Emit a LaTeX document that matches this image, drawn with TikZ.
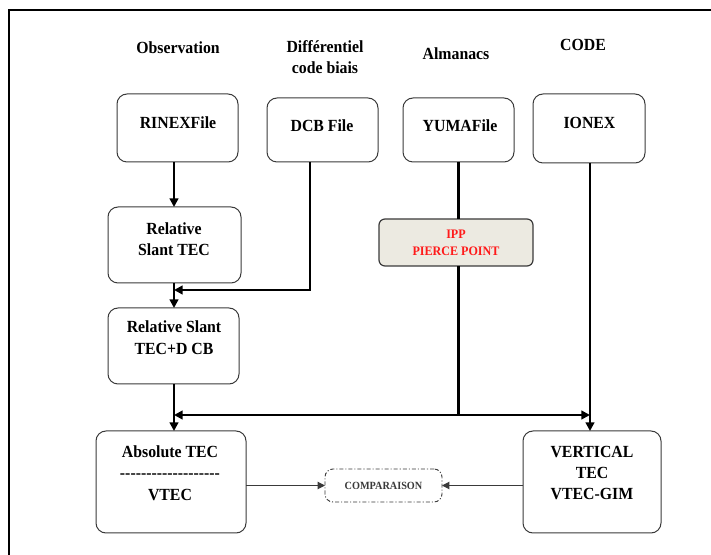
\documentclass[tikz,border=0pt]{standalone}
\usepackage{fontspec}
\setmainfont[FakeStretch=0.93]{Liberation Serif}
\usetikzlibrary{arrows.meta}
\definecolor{boxline}{HTML}{3A3A3A}
\definecolor{ippfill}{HTML}{ECEAE1}
\definecolor{ippred}{HTML}{FF1A1A}
\tikzset{
  box/.style={draw=boxline, line width=0.75pt, rounded corners=7.5pt, inner sep=0pt, outer sep=0pt},
  ippbox/.style={draw=boxline, fill=ippfill, line width=0.9pt, rounded corners=4.5pt, inner sep=0pt, outer sep=0pt},
  compbox/.style={draw=boxline, line width=0.7pt, rounded corners=6pt, inner sep=0pt, outer sep=0pt,
    dash pattern=on 3pt off 1.5pt on 0.8pt off 1.5pt},
  txt/.style={inner sep=0pt, align=center, font=\fontsize{12.75}{16.1}\selectfont\bfseries},
  iptxt/.style={inner sep=0pt, align=center, text=ippred, font=\fontsize{9.75}{12.75}\selectfont\bfseries},
  comptxt/.style={inner sep=0pt, text=boxline, font=\fontsize{8.25}{10}\selectfont\bfseries},
  conn/.style={line width=1.9pt, -{Triangle[length=6.5pt,width=6.5pt]}},
  connline/.style={line width=1.9pt},
  thinarr/.style={line width=0.8pt, draw=boxline, -{Triangle[length=5.5pt,width=5.5pt]}},
}
\begin{document}
\begin{tikzpicture}[x=0.75pt, y=-0.75pt]
\useasboundingbox (0,0) rectangle (711,555);
% frame
\draw[line width=1.3pt] (9,560) -- (9,10) -- (715,10);

% column headers
\node[txt] (hobs) at (178,48) {Observation};
\node[txt] (hdcb) at (325,57) {Différentiel\\code biais};
\node[txt] (halm) at (456,54) {Almanacs};
\node[txt] (hcode) at (583,45) {CODE};

% boxes
\node[box, minimum width=90.75pt, minimum height=51pt] (rinex) at (177.5,128) {};
\node[txt] (trinex) at (178,123) {RINEXFile};
\node[box, minimum width=83.25pt, minimum height=48pt] (dcb) at (322.5,130) {};
\node[txt] (tdcb) at (322,126) {DCB File};
\node[box, minimum width=83.25pt, minimum height=48pt] (yuma) at (458.5,130) {};
\node[txt] (tyuma) at (460,126) {YUMAFile};
\node[box, minimum width=84pt, minimum height=51.75pt] (ionex) at (589,128.5) {};
\node[txt] (tionex) at (589.5,123) {IONEX};

\node[box, minimum width=99.75pt, minimum height=57pt] (reltec) at (174.5,245) {};
\node[txt] (treltec) at (174,239) {Relative\\Slant TEC};

\node[ippbox, minimum width=115.5pt, minimum height=35.25pt] (ipp) at (456,242.5) {};
\node[iptxt] (tipp) at (456,242.5) {IPP\\PIERCE POINT};

\node[box, minimum width=98.25pt, minimum height=57pt] (reldcb) at (173.5,346) {};
\node[txt] (treldcb) at (174,337.5) {Relative Slant\\TEC+D CB};

\node[box, minimum width=112.5pt, minimum height=76.5pt] (abs) at (171,482) {};
\node[txt] (tabs) at (170,473) {Absolute TEC\\{-}{-}{-}{-}{-}{-}{-}{-}{-}{-}{-}{-}{-}{-}{-}{-}{-}{-}{-}\\VTEC};

\node[box, minimum width=103.5pt, minimum height=76.5pt] (vert) at (592,482) {};
\node[txt] (tvert) at (592,473) {VERTICAL\\TEC\\VTEC-GIM};

\node[compbox, minimum width=87.75pt, minimum height=24.75pt] (comp) at (383.5,485.5) {};
\node[comptxt] (tcomp) at (383.5,485.5) {COMPARAISON};

% junction coordinates
\coordinate (j1) at (174,290);
\coordinate (j2) at (174,415);
\coordinate (j3) at (590,415);

% connectors
\draw[conn] (rinex.south -| j1) -- (reltec.north -| j1);
\draw[conn] ([xshift=-9.4pt]dcb.south) |- (j1);
\draw[conn] (reltec.south -| j1) -- (reldcb.north -| j1);
\draw[connline] (yuma.south) -- (yuma.south |- ipp.north);
\draw[conn] (yuma.south |- ipp.south) -- (yuma.south |- j2) -- (j2);
\draw[conn] (yuma.south |- j3) -- (j3);
\draw[conn] (reldcb.south -| j2) -- (abs.north -| j2);
\draw[conn] (ionex.south -| j3) -- (vert.north -| j3);
\draw[thinarr] (abs.east |- comp.west) -- (comp.west);
\draw[thinarr] (vert.west |- comp.east) -- (comp.east);
\end{tikzpicture}
\end{document}
